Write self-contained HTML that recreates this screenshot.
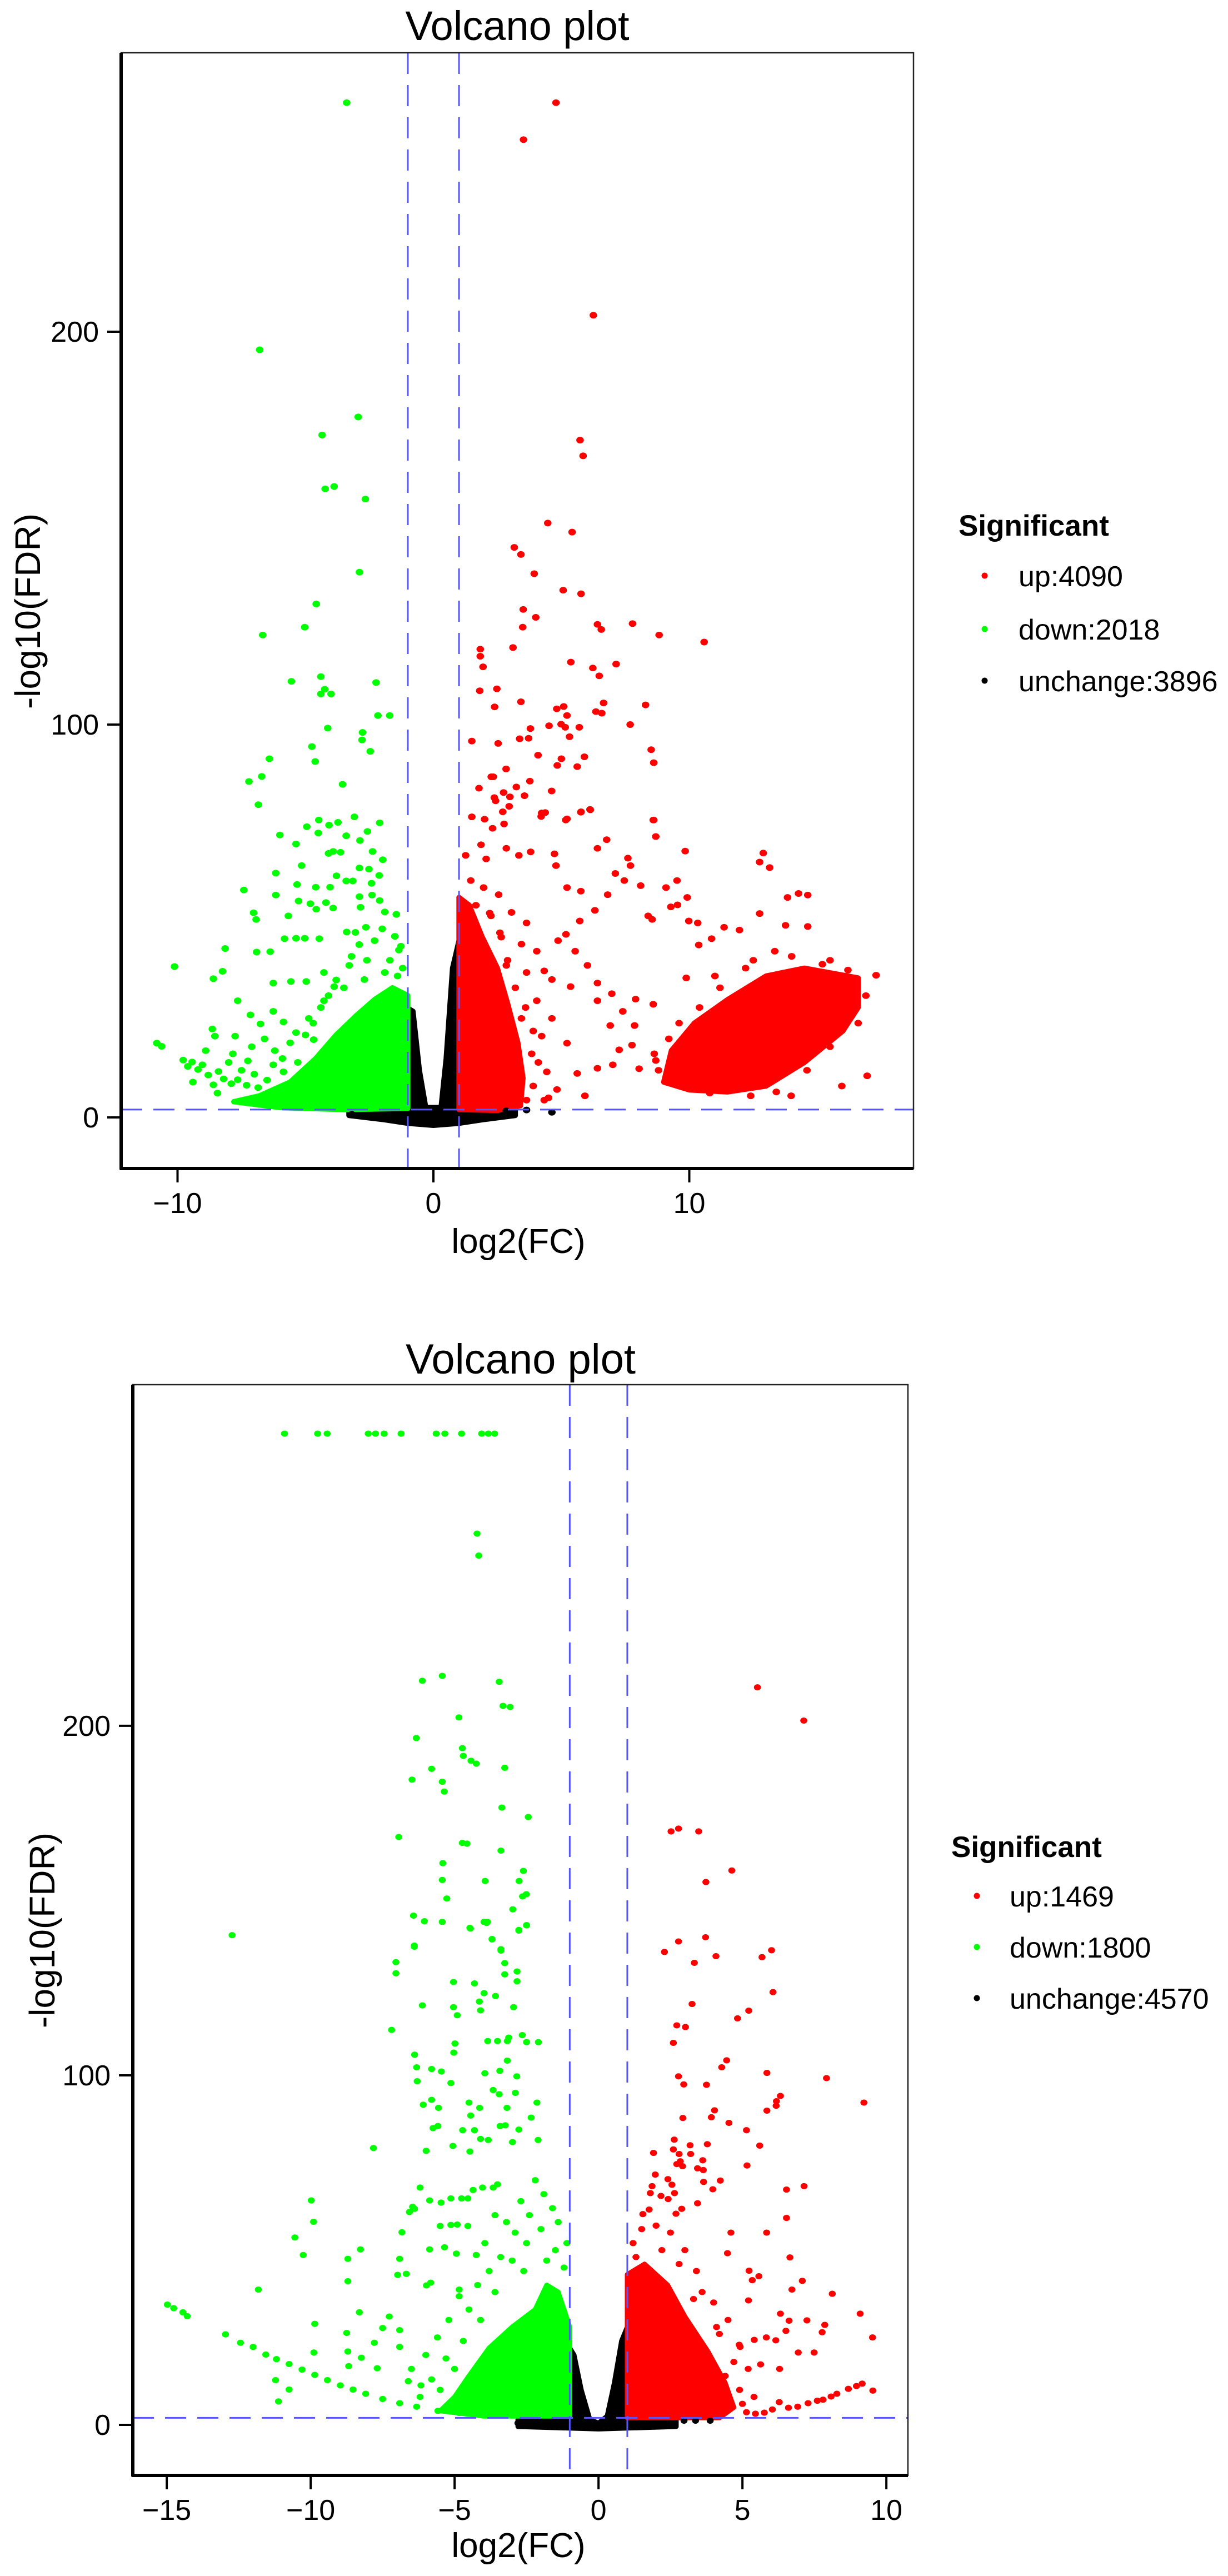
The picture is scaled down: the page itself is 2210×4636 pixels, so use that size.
<!DOCTYPE html>
<html>
<head>
<meta charset="utf-8">
<style>
html,body{margin:0;padding:0;background:#fff;}
svg{display:block;}
text{font-family:"Liberation Sans",Arial,sans-serif;fill:#000;}
</style>
</head>
<body>
<svg id="fig" xmlns="http://www.w3.org/2000/svg" width="2210" height="4636" viewBox="0 0 2210 4636">
<rect x="0" y="0" width="2210" height="4636" fill="#fff"/>
</svg>
<script>
// ===== Top chart data =====
const topXTicks = [-10, 0, 10];
const topYTicks = [0, 100, 200];
const topLegend = ["up:4090", "down:2018", "unchange:3896"];
const topThresholdX = [-1, 1];
const topThresholdY = [2];
const topDown = [
[-3.39,258.3],[-6.79,195.4],[-2.94,178.3],[-4.35,173.7],[-4.23,160],[-3.88,160.6],[-2.66,157.4],[-2.89,138.8],[-4.58,130.7],[-5.03,124.8],[-6.67,122.8],[-5.55,111],[-4.40,112.2],[-4.25,109],[-4.40,107.8],[-4.0,107.8],[-2.24,110.7],[-2.17,102.3],[-1.71,102.3],[-4.13,99.1],[-2.77,98],[-2.79,96.1],[-4.75,94.4],[-4.62,90.6],[-2.47,93.2],[-6.41,91.3],[-7.21,85.5],[-6.71,86.8],[-3.55,84.8],[-6.84,79.6],
[-10.12,38.4],[-8.60,35.3],[-8.24,37.2],[-8.14,43.0],[-7.41,57.9],[-7.03,52.1],[-6.93,50.4],[-6.00,71.9],[-5.37,69.6],[-5.15,64.1],[-4.48,75.7],[-4.08,74.4],[-3.73,75.1],[-3.09,76.5],[-2.10,75.0],[-4.95,74.0],[-4.50,72.4],[-3.41,71.7],[-2.87,70.5],[-2.58,72.8],[-4.10,67.2],[-3.92,67.7],[-3.63,67.5],[-2.38,67.7],[-1.98,65.6],[-6.16,62.2],[-5.33,59.3],[-4.60,58.6],[-4.04,58.6],[-3.79,61.5],[-3.41,60.2],[-3.15,60.2],[-2.89,63.5],[-2.52,63.2],[-2.42,59.6],[-2.12,61.6],[-6.16,56.6],[-5.67,51.3],[-5.27,55.1],[-4.81,54.4],[-4.58,53.0],[-4.20,54.7],[-3.92,53.3],[-2.89,56.2],[-2.85,53.5],[-2.40,56.6],[-2.10,55.2],[-1.90,52.3],[-1.45,51.7],[-5.82,45.5],[-5.37,45.6],[-5.03,45.6],[-4.46,45.5],[-6.91,42.1],[-6.38,42.2],[-3.39,47.2],[-3.05,47.1],[-2.64,48.4],[-1.35,42.6],[-1.27,43.6],[-1.51,46.1],
[-6.26,34.2],[-5.57,34.6],[-4.97,34.6],[-4.28,36.9],[-3.88,33.3],[-3.29,38.7],[-2.70,35.1],[-1.90,36.9],[-7.65,29.7],[-7.15,26.1],[-6.76,23.8],[-6.26,27.0],[-5.86,24.3],[-5.37,21.6],[-4.87,25.2],[-4.68,19.8],[-4.28,29.7],[-4.08,16.2],[-8.64,22.5],[-8.54,20.7],[-7.75,20.7],[-7.84,16.2],[-8.44,6.2],[-6.85,4.4],[-6.26,13.4],[-5.86,11.6],[-5.27,9.8],[-7.25,14.4],
[-10.81,18.9],[-10.62,18.1],[-9.78,14.6],[-9.43,14.1],[-9.03,13.4],[-8.40,11.7],[-7.65,9.6],[-6.85,7.6],[-6.06,5.8],[-5.07,4.0],[-3.88,2.8],[-2.50,2.3],
[-9.6,13],[-9.2,12.2],[-8.8,10.8],[-8.2,9.8],[-7.9,8.6],[-7.3,8.2],[-7.0,11],[-6.5,9.5],[-6.2,17],[-5.9,15],[-5.6,19],[-5.3,14],[-5.0,21],[-4.7,24],[-4.4,28],[-4.1,31],[-3.8,35],[-3.5,33],[-3.2,41],[-2.9,44],[-2.6,40],[-2.3,45],[-2.0,48],[-1.7,40],[-1.4,36],[-1.2,38],[-6.6,20],[-7.1,18],[-7.5,12],[-8.0,14],[-8.9,17],[-9.4,9],[-8.6,8.3]
];
const topUp = [
[4.79,258.3],[3.52,248.9],[6.25,204.2],[5.73,172.4],[5.85,168.4],[4.47,151.3],[5.42,149],[3.16,145.1],[3.42,143.3],[3.94,138.4],[5.07,134.2],[5.77,133.3],[3.51,129.3],[3.49,124.8],[4.0,127.3],[3.11,119.6],[6.41,125.5],[6.56,124.2],[7.78,125.7],[8.82,122.8],[10.58,121],[7.14,115.4],[1.83,119.2],[1.83,117.4],[1.94,114.7],[5.37,115.9],[6.23,114.4],[6.48,112.4],[1.81,108.6],[2.48,109.1],[3.42,105.8],[2.39,104.5],[4.82,104],[5.09,104.6],[6.35,103.3],[6.58,102.9],[6.65,105.5],[8.29,105],[5.22,102.3],[4.52,99.7],[4.99,100.1],[5.15,99.3],[5.70,99.3],[5.32,96.9],[3.79,99],[7.69,100],[1.50,95.8],[2.53,95.2],[3.37,96.4],[3.72,96.5],[4.09,92.2],[5.00,91.3],[4.84,89.6],[5.90,91.8],[5.62,89.3],[8.51,93.6],[8.61,90.3],[2.84,88.7],[2.26,86.7],[2.34,86.7],[3.77,85.6],[1.78,83.8],[3.24,84.1],[4.62,83.1],[2.38,81.4],[2.43,80.6],[2.74,82.7],[2.99,81.6],[3.56,81.9],[2.96,79.2],[2.71,77.8],[1.50,76.5],[2.00,75.9],[4.21,76.6],[4.37,77.6],[5.77,77.8],[6.13,78.3],[8.61,75.7],[2.76,74.7],[2.31,73.6],[5.17,75.7],
[3.80,67.6],[4.23,77.5],[5.22,76.0],[5.76,77.7],[6.12,78.4],[4.73,67.1],[4.79,64.1],[5.76,57.6],[6.31,52.7],[6.81,56.7],[5.22,58.5],[5.72,50.0],[4.87,45.0],[5.18,46.6],[5.54,42.3],[4.33,37.3],[4.63,35.1],[5.36,33.3],[6.02,38.7],[6.41,29.7],[6.91,23.4],[7.40,27.0],[4.43,11.6],[4.33,4.4],[4.83,7.1],[3.24,7.6],[3.64,4.4],[6.41,34.2],[6.97,31.5],[7.90,30.1],[8.59,28.8],[7.86,23.4],[8.63,16.2],[8.04,12.4],[8.69,14.5],[7.76,18.4],[7.26,17.2],[7.01,13.4],[6.41,12.5],[5.92,5.5],[5.62,11.2],[9.84,67.8],[9.92,56.0],[9.52,60.3],[8.59,75.7],[8.69,71.5],[7.60,66.0],[7.70,64.1],[8.10,59.0],[9.09,58.5],[9.28,53.6],[9.54,54.1],[8.39,51.3],[8.55,50.4],[7.11,62.1],[7.46,60.3],[6.41,68.5],[6.77,70.7],[9.98,50.0],[10.33,49.5],[9.88,35.5],[12.89,67.3],[12.75,65.0],[13.14,63.6],[14.27,57.0],[14.63,56.6],[13.84,56.0],[12.75,51.9],[13.76,48.9],[14.63,48.6],[11.36,48.4],[11.96,47.7],[10.87,45.5],[10.37,43.9],[17.30,36.2],[16.95,10.6],[15.96,8.0],[13.98,5.5],[13.34,42.3],[12.2,38],[11.0,36],[15.5,40],
[1.26,66.7],[1.86,69.4],[2.06,65.8],[2.85,68.5],[3.34,66.7],[1.46,60.3],[1.96,58.5],[2.55,56.7],[1.66,54.0],[2.25,51.3],[3.05,52.2],[3.64,49.5],[1.46,47.7],[2.65,45.9],[3.44,44.1],[4.04,42.3],[1.66,42.3],[2.85,38.7],[3.64,36.9],[4.04,29.7],[3.44,25.2],[4.23,20.7],[3.84,16.2],[3.05,11.6],[4.63,25.2],[5.22,18.9],
[3.2,33],[3.6,28],[3.9,22],[4.1,14],[3.9,8],[4.5,5],[2.9,40],[2.6,47],[2.2,52],[9.2,20],[9.6,24],[10.4,28],[11.2,33],[12.5,40],[14.0,41],[15.2,39],[16.2,37.5],[16.9,31],[16.6,24],[15.5,18],[14.6,12],[13.4,6.5],[12.4,5.5],[10.8,6.2],[9.6,8],[8.8,12]
];
const topUnchange = [[2.85,1.7],[3.64,1.9],[4.63,1.3],[-3.19,0.8],[-2.6,0.3],[-1.8,-0.4]];
const topDownCloud = [[-1,2.3],[-1,31],[-1.6,33],[-2.3,30],[-3,26],[-3.8,21],[-4.6,15],[-5.6,9],[-6.8,5.5],[-7.8,4],[-6,2.5],[-3.5,2]];
const topUpCloud = [[1,2],[1,56],[1.4,54],[1.9,46],[2.5,38],[2.9,29],[3.3,19],[3.5,10],[3.4,3],[2.5,1.8]];
const topUpBlob = [[9,9],[9.3,17],[10.2,24],[11.5,30],[13,36],[14.5,38],[16.6,35.5],[16.6,28],[16,22],[14.5,14],[13,8],[11.5,6.5],[10,7]];
const topUnchangeCloud = [[-3.3,0.5],[-3.3,1.8],[-1.1,2],[-1.05,28],[-0.8,27],[-0.55,12],[-0.3,2.5],[0.3,2.5],[0.5,15],[0.75,38],[1.0,45],[1.03,2],[3.2,1.8],[3.2,0.5],[2,-0.5],[1,-1.5],[0,-2],[-1,-1.5],[-2,-0.5]];

// ===== Bottom chart data =====
const botXTicks = [-15, -10, -5, 0, 5, 10];
const botYTicks = [0, 100, 200];
const botLegend = ["up:1469", "down:1800", "unchange:4570"];
const botThresholdX = [-1, 1];
const botThresholdY = [2];
const botDown = [
[-10.91,283.6],[-9.76,283.6],[-9.43,283.6],[-8.0,283.6],[-7.75,283.6],[-7.45,283.6],[-6.86,283.6],[-5.64,283.6],[-5.34,283.6],[-4.76,283.6],[-4.06,283.6],[-3.83,283.6],[-3.61,283.6],
[-4.22,255.0],[-4.16,248.7],[-6.12,212.9],[-5.43,214.3],[-3.45,212.6],[-3.32,205.7],[-3.07,205.4],[-4.85,202.4],[-6.33,196.5],[-4.73,193.6],[-4.70,191.4],[-4.43,190.0],[-4.25,189.2],[-5.80,187.7],[-6.48,184.6],[-5.43,184.0],[-5.36,181.2],[-3.26,188.0],[-3.36,176.6],[-2.44,173.9],[-6.94,168.2],[-4.73,166.5],[-4.57,166.3],[-3.39,164.3],[-5.41,160.7],[-2.61,158.5],[-5.43,155.9],[-3.94,155.6],[-2.76,155.6],[-5.27,150.6],[-2.64,151.2],[-2.51,151.8],[-2.98,147.5],[-6.43,145.7],[-6.05,144.1],[-5.43,143.9],[-3.98,143.9],[-3.86,143.9],[-4.47,142.2],[-2.50,143.0],[-2.77,141.6],[-12.73,140.1],[-3.70,139.0],[-6.40,137.1],[-3.39,136.1],[-7.04,129.2],[-3.26,128.9],[-2.83,126.9],
[-7.04,132.4],[-7.19,113.0],[-6.12,120.0],[-6.40,136.8],[-5.04,126.7],[-4.31,126.3],[-3.98,123.5],[-3.58,122.7],[-4.14,121.1],[-4.10,118.6],[-5.04,119.5],[-4.91,117.2],[-2.95,119.5],[-3.70,138.9],[-3.39,135.7],[-3.26,132.1],[-2.83,129.7],[-2.77,141.4],[-2.50,142.9],[-4.45,142.0],[-3.89,143.6],
[-3.85,109.8],[-3.51,109.8],[-3.17,109.8],[-2.65,111.5],[-2.50,109.5],[-2.09,109.5],[-4.99,109.1],[-5.03,106.5],[-3.12,110.8],
[-6.39,105.9],[-6.32,102.3],[-5.80,101.8],[-5.46,101.1],[-5.13,97.8],[-3.95,100.6],[-3.43,101.3],[-3.17,104.2],[-2.84,99.7],[-6.30,98.3],
[-6.09,91.6],[-5.80,93.0],[-5.56,90.7],[-4.50,92.2],[-4.44,88.5],[-4.13,90.7],[-3.66,95.8],[-3.45,94.6],[-3.18,90.7],[-2.89,95.0],[-2.14,92.2],[-2.34,87.9],
[-5.99,78.4],[-5.58,85.5],[-5.75,84.9],[-5.06,79.8],[-4.72,84.3],[-4.31,84.3],[-4.47,78.2],[-4.10,81.8],[-3.83,81.5],[-3.42,85.5],[-3.24,85.7],[-2.99,80.9],[-2.77,84.5],[-2.10,81.5],[-7.82,79.2],
[-6.46,62.4],[-6.39,61.8],[-5.87,64.2],[-5.47,63.6],[-5.13,64.8],[-4.76,64.8],[-4.54,64.8],[-4.36,67.2],[-4.03,67.9],[-3.66,67.9],[-3.51,68.8],
[-6.20,67.9],[-6.57,60.9],[-5.50,56.9],[-5.13,57.2],[-4.91,57.3],[-6.83,55.1],[-5.87,50.2],[-5.35,50.8],[-4.94,49.0],[-4.25,48.6],[-3.95,52.0],[-4.54,56.9],
[-9.98,64.2],[-9.90,58.1],[-10.55,53.6],[-10.26,48.6],[-8.71,47.5],[-8.27,50.2],[-8.71,41.1],[-6.91,47.5],[-6.98,42.9],[-6.68,43.2],[-5.98,39.9],[-5.83,40.7],[-4.84,38.7],[-4.84,36.8],[-11.82,38.7],
[-14.98,34.4],[-14.76,33.4],[-14.44,32.2],[-14.29,31.1],
[-12.96,25.9],[-12.44,23.5],[-12.0,22.3],[-11.56,20.1],[-11.19,18.8],[-10.75,17.4],[-10.30,15.8],[-9.86,14.3],[-9.42,12.8],[-8.97,11.3],[-8.53,10.1],[-8.09,8.9],[-7.50,7.4],[-6.91,6.2],[-6.32,5.2],[-5.58,4.0],[-4.84,3.4],[-4.25,3.0],
[-11.22,12.8],[-11.12,6.7],[-10.75,10.1],[-9.86,28.9],[-9.89,20.7],[-8.75,26.3],[-8.71,21.0],[-8.31,32.2],[-8.68,16.8],[-8.24,19.2],[-7.79,23.5],[-7.69,16.2],[-7.50,27.7],[-7.27,31.0],[-6.91,27.1],[-6.91,22.3],[-6.61,12.5],[-6.17,11.3],
[-3.6,60],[-3.2,58],[-2.9,55],[-2.5,52],[-2.2,70],[-1.9,66],[-1.6,62],[-1.4,58],[-2.7,64],[-3.4,48],[-3.8,44],[-4.2,40],[-5.2,30],[-5.6,25],[-6.0,20],[-4.5,33],[-5.0,16],[-5.5,10],[-4.6,8],[-6.5,16],
[-1.2,45],[-1.5,50],[-2.0,56],[-2.4,60],[-3.0,47],[-3.6,38],[-4.1,30],[-4.7,24],[-5.3,19],[-5.8,13],[-6.2,8],[-1.1,52],[-1.8,47],[-2.6,44]
];
const botUp = [
[5.52,211.0],[7.13,201.5],[2.52,169.8],[2.78,170.6],[3.48,169.8],[4.63,158.6],[3.73,155.3],[2.78,138.3],[3.72,139.5],[2.29,135.3],[3.33,132.2],[4.08,134.1],[5.68,133.8],[6.01,135.8],[6.06,123.8],[3.25,120.4],[2.72,114.3],[3.02,113.8],[2.60,109.3],[4.83,116.3],[5.22,118.5],
[4.28,102.3],[4.45,104.3],[2.78,99.7],[2.96,97.4],[3.75,97.3],[5.85,100.7],[7.92,99.2],[9.22,92.2],[6.18,92.6],[6.32,94.1],[6.17,91.3],[5.85,89.9],[4.03,90.0],[3.92,88.0],[2.93,87.8],[4.53,86.4],[5.14,84.3],[5.60,79.9],[5.16,74.2],[3.78,80.3],[2.63,81.6],[3.18,80.0],[3.20,77.5],[2.60,78.8],[2.80,77.5],[2.72,74.6],[2.92,74.0],[2.84,75.4],[1.91,77.8],[3.44,73.4],[3.64,72.9],[3.62,75.7],[3.65,69.5],[3.97,67.4],[4.23,69.9],[1.97,71.6],[2.41,70.3],[2.55,68.7],[2.64,66.3],[1.86,68.3],[1.80,66.3],[2.17,65.5],[2.42,64.6],[6.53,67.3],[7.14,68.3],[6.53,59.2],[3.44,63.4],[2.89,61.8],[2.69,60.4],[1.54,60.3],[1.76,61.6],[5.84,55.0],[4.60,55.0],[4.48,49.1],[6.65,47.9],[5.23,44.1],[5.34,41.4],[5.57,42.5],[7.08,41.2],[6.72,38.7],[8.12,37.5],[5.21,35.6],[9.09,31.8],[9.52,25.0],[9.53,9.8],
[6.32,31.8],[6.62,29.8],[7.24,29.9],[7.86,28.6],[7.77,26.5],[6.51,26.9],[6.94,20.7],[7.49,20.7],[6.29,16.0],[5.63,17.3],[5.83,25.0],[6.16,24.2],[5.41,24.3],[4.92,22.3],[4.89,22.9],
[9.16,11.8],[8.96,11.1],[8.68,10.3],[8.28,8.9],[8.08,8.1],[7.80,7.2],[7.60,6.9],[7.28,6.2],[6.92,5.2],[6.60,4.9],[6.28,6.5],[6.04,4.4],[5.76,3.5],[5.45,3.2],[5.14,3.6],
[4.5,30],[4.0,35],[3.6,38],[4.2,26],[3.9,18],[4.4,14],[4.9,10],[5.2,16],[3.4,44],[3.0,50],[2.5,55],[2.0,57],
[1.2,52],[1.5,56],[2.8,46],[3.3,36],[4.1,28],[4.7,18],[5.0,6],[5.4,8],[1.3,48],[2.2,50]
];
const botUnchange = [[2.97,1.2],[3.37,1.2],[3.88,1.2],[-2.8,0.5],[-2.5,-0.3]];
const botDownCloud = [[-1,2.5],[-1,28],[-1.4,38],[-1.8,40],[-2.2,33],[-3,28],[-3.8,22],[-4.5,14],[-5,8],[-5.5,4],[-4,2.5]];
const botUpCloud = [[1,2],[1,43],[1.6,46],[2.4,40],[3.0,31],[3.8,21],[4.4,12],[4.7,5],[4.2,2]];
const botUnchangeCloud = [[-2.8,-0.5],[-2.8,1.5],[-1.05,2],[-1.0,22],[-0.85,20],[-0.6,10],[-0.3,1.5],[0,0.5],[0.3,2.5],[0.55,12],[0.8,24],[1.0,28],[1.03,2],[2.7,1.5],[2.7,-0.5],[0,-1.2]];

const NS = "http://www.w3.org/2000/svg";
const svg = document.getElementById('fig');
function mk(tag, attrs, parent) {
  const e = document.createElementNS(NS, tag);
  for (const k in attrs) e.setAttribute(k, attrs[k]);
  (parent || svg).appendChild(e);
  return e;
}
const RED = "#ff0000", GREEN = "#00ff00", BLACK = "#000000", BLUE = "#5555ff";

function drawChart(c) {
  const g = mk('g', {});
  
  
  const sx = v => c.left + (v - c.xd[0]) / (c.xd[1] - c.xd[0]) * (c.right - c.left);
  const sy = v => c.bottom - (v - c.yd[0]) / (c.yd[1] - c.yd[0]) * (c.bottom - c.top);

  const cloud = (pts, col, nm) => {
    const d = pts.map((p, i) => (i ? 'L' : 'M') + sx(p[0]).toFixed(1) + ' ' + sy(p[1]).toFixed(1)).join(' ') + ' Z';
    const p = mk('path', {d: d, fill: col, stroke: col, 'stroke-width': c.r * 1.4, 'stroke-linejoin': 'round'}, g);
    
    
  };
  const dots = (pts, col, nm) => {
    const gg = mk('g', {fill: col}, g);
    
    
    pts.forEach(p => {
      const e = mk('ellipse', {cx: sx(p[0]).toFixed(1), cy: sy(p[1]).toFixed(1), rx: c.r, ry: c.r * 0.88}, gg);
      
      
    });
  };
  c.clouds.forEach(cl => cloud(cl[0], cl[1], cl[2]));
  dots(c.unchange, BLACK, 'unchange-points');
  dots(c.down, GREEN, 'down-points');
  dots(c.up, RED, 'up-points');

  c.thrX.forEach(v => {
    const l = mk('line', {x1: sx(v), x2: sx(v), y1: c.top, y2: c.bottom, stroke: BLUE, 'stroke-width': 3, 'stroke-dasharray': '38 20'}, g);
    
    
  });
  c.thrY.forEach(v => {
    const l = mk('line', {x1: c.left, x2: c.right, y1: sy(v), y2: sy(v), stroke: BLUE, 'stroke-width': 3, 'stroke-dasharray': '38 20'}, g);
    
    
  });

  const fr = mk('rect', {x: c.left, y: c.top, width: c.right - c.left, height: c.bottom - c.top, fill: 'none', stroke: '#222', 'stroke-width': 2.5}, g);
  
  
  const ya = mk('line', {x1: c.left, x2: c.left, y1: c.top, y2: c.bottom + 2, stroke: '#000', 'stroke-width': 6}, g);
  
  
  const xa = mk('line', {x1: c.left - 2, x2: c.right, y1: c.bottom, y2: c.bottom, stroke: '#000', 'stroke-width': 6}, g);
  
  

  c.xt.forEach(v => {
    const t = mk('line', {x1: sx(v), x2: sx(v), y1: c.bottom, y2: c.bottom + 25, stroke: '#000', 'stroke-width': 4}, g);
    
    
    const tx = mk('text', {x: sx(v), y: c.bottom + 80, 'font-size': 52, 'text-anchor': 'middle'}, g);
    tx.textContent = String(v).replace('-', '\u2212');
    
    
  });
  c.yt.forEach(v => {
    const t = mk('line', {x1: c.left - 25, x2: c.left, y1: sy(v), y2: sy(v), stroke: '#000', 'stroke-width': 4}, g);
    
    
    const tx = mk('text', {x: c.left - 40, y: sy(v) + 18, 'font-size': 52, 'text-anchor': 'end'}, g);
    tx.textContent = String(v);
    
    
  });

  const ti = mk('text', {x: c.titleX, y: c.titleY, 'font-size': c.titleSize, 'text-anchor': 'middle'}, g);
  ti.textContent = 'Volcano plot';
  
  
  const xl = mk('text', {x: c.xlX, y: c.xlY, 'font-size': 62, 'text-anchor': 'middle'}, g);
  xl.textContent = 'log2(FC)';
  
  
  const yl = mk('text', {x: 0, y: 0, 'font-size': 64, 'text-anchor': 'middle', transform: 'translate(' + c.ylX + ',' + c.ylY + ') rotate(-90)'}, g);
  yl.textContent = '-log10(FDR)';
  
  

  const lg = mk('g', {}, g);
  
  
  const lt = mk('text', {x: c.legX, y: c.legTitleY + 19, 'font-size': 53, 'font-weight': 'bold'}, lg);
  lt.textContent = 'Significant';
  
  
  const cols = [RED, GREEN, BLACK];
  c.legend.forEach((lab, i) => {
    const yy = c.legItemY[i];
    const d = mk('circle', {cx: c.legDotX, cy: yy, r: 5.5, fill: cols[i]}, lg);
    
    
    const t = mk('text', {x: c.legTextX, y: yy + 19, 'font-size': 52}, lg);
    t.textContent = lab;
    
    
  });
}

drawChart({
  name: 'top-volcano-chart', left: 218, right: 1644, top: 95, bottom: 2103,
  xd: [-12.204, 18.762], yd: [-13.01, 271.0], r: 6.8,
  up: topUp, down: topDown, unchange: topUnchange,
  clouds: [[topUnchangeCloud, BLACK, 'unchange-cloud'], [topDownCloud, GREEN, 'down-cloud'], [topUpCloud, RED, 'up-cloud'], [topUpBlob, RED, 'up-cluster']],
  thrX: topThresholdX, thrY: topThresholdY, xt: topXTicks, yt: topYTicks,
  titleX: 931, titleY: 72, titleSize: 74, xlX: 933, xlY: 2255, ylX: 72, ylY: 1100,
  legend: topLegend, legX: 1725, legTitleY: 945, legDotX: 1772, legTextX: 1833, legItemY: [1036, 1132, 1225]
});
drawChart({
  name: 'bottom-volcano-chart', left: 239, right: 1634, top: 2492, bottom: 4455,
  xd: [-16.18, 10.75], yd: [-14.47, 297.6], r: 6.3,
  up: botUp, down: botDown, unchange: botUnchange,
  clouds: [[botUnchangeCloud, BLACK, 'unchange-cloud'], [botDownCloud, GREEN, 'down-cloud'], [botUpCloud, RED, 'up-cloud']],
  thrX: botThresholdX, thrY: botThresholdY, xt: botXTicks, yt: botYTicks,
  titleX: 937, titleY: 2472, titleSize: 76, xlX: 933, xlY: 4602, ylX: 98, ylY: 3474,
  legend: botLegend, legX: 1712, legTitleY: 3323, legDotX: 1758, legTextX: 1817, legItemY: [3412, 3504, 3596]
});
</script>
</body>
</html>
